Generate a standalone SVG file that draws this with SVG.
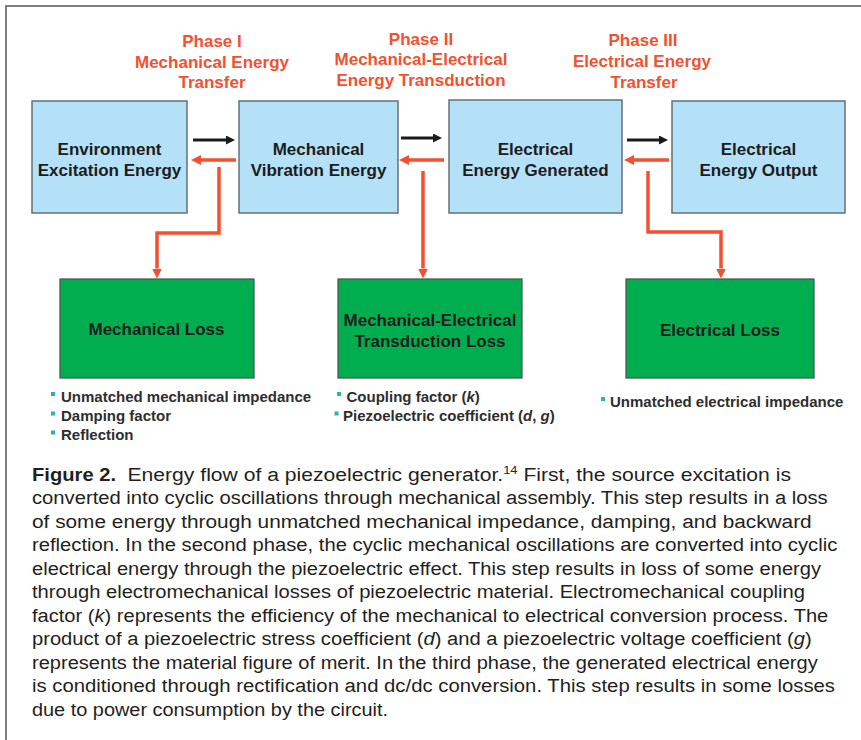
<svg xmlns="http://www.w3.org/2000/svg" width="861" height="740" viewBox="0 0 861 740">
<defs>
<style>
.bg{fill:#ffffff}
.frame{fill:none;stroke:#555;stroke-width:1.5}
.blue{fill:#B4E1F7;stroke:#62717a;stroke-width:1.5}
.green{fill:#00AE50;stroke:#4d5a52;stroke-width:1.3}
.nt{font-family:"Liberation Sans",Arial,Helvetica,sans-serif;font-weight:bold;font-size:17px;fill:#1c1c1c;text-anchor:middle}
.ph{font-family:"Liberation Sans",Arial,Helvetica,sans-serif;font-weight:bold;font-size:17px;fill:#F2512F;text-anchor:middle}
.bt{font-family:"Liberation Sans",Arial,Helvetica,sans-serif;font-weight:bold;font-size:15px;fill:#2e2e2e}
.sq{fill:#2BB3AF}
.cap{font-family:"Liberation Sans",Arial,Helvetica,sans-serif;font-size:18px;fill:#231f20}
.blk{fill:none;stroke:#1a1a1a;stroke-width:3}
.red{fill:none;stroke:#F2512F;stroke-width:3.5;stroke-linejoin:miter}
</style>
<marker id="ahb" viewBox="0 0 10 10" refX="0" refY="5" markerWidth="9" markerHeight="9" markerUnits="userSpaceOnUse" orient="auto">
<path d="M0,0 L10,5 L0,10 z" fill="#1a1a1a"/>
</marker>
<marker id="ahr" viewBox="0 0 10 10" refX="0" refY="5" markerWidth="10" markerHeight="10" markerUnits="userSpaceOnUse" orient="auto">
<path d="M0,0 L10,5 L0,10 z" fill="#F2512F"/>
</marker>
</defs>
<rect class="bg" x="0" y="0" width="861" height="740"/>
<path class="frame" d="M6,740 V6 H861"/>

<g id="phase-labels">
<text class="ph" x="212" y="47">Phase I</text>
<text class="ph" x="212" y="67.5">Mechanical Energy</text>
<text class="ph" x="212" y="88">Transfer</text>
<text class="ph" x="421" y="44.5">Phase II</text>
<text class="ph" x="421" y="65">Mechanical-Electrical</text>
<text class="ph" x="421" y="86">Energy Transduction</text>
<text class="ph" x="643" y="46">Phase III</text>
<text class="ph" x="642" y="66.5">Electrical Energy</text>
<text class="ph" x="644" y="87.5">Transfer</text>
</g>

<g id="env">
<rect class="blue" x="32" y="101" width="155" height="112"/>
<text class="nt" x="109.5" y="155">Environment</text>
<text class="nt" x="109.5" y="175.5">Excitation Energy</text>
</g>
<g id="mech">
<rect class="blue" x="239" y="101" width="159" height="112"/>
<text class="nt" x="318.5" y="155">Mechanical</text>
<text class="nt" x="318.5" y="175.5">Vibration Energy</text>
</g>
<g id="elecgen">
<rect class="blue" x="449" y="100" width="173" height="113"/>
<text class="nt" x="535.5" y="154.5">Electrical</text>
<text class="nt" x="535.5" y="175.5">Energy Generated</text>
</g>
<g id="elecout">
<rect class="blue" x="672" y="101" width="173" height="112"/>
<text class="nt" x="758.5" y="154.5">Electrical</text>
<text class="nt" x="758.5" y="175.5">Energy Output</text>
</g>

<g id="mechloss">
<rect class="green" x="60" y="279" width="194" height="99"/>
<text class="nt" x="156.5" y="335">Mechanical Loss</text>
</g>
<g id="transloss">
<rect class="green" x="338" y="279" width="184" height="99"/>
<text class="nt" x="430" y="325.5">Mechanical-Electrical</text>
<text class="nt" x="430" y="346.5">Transduction Loss</text>
</g>
<g id="elecloss">
<rect class="green" x="626" y="279" width="188" height="99"/>
<text class="nt" x="720" y="335.5">Electrical Loss</text>
</g>

<g id="mechloss-notes">
<rect class="sq" x="51" y="392" width="4" height="4"/>
<text class="bt" x="61" y="401.5">Unmatched mechanical impedance</text>
<rect class="sq" x="51" y="411.5" width="4" height="4"/>
<text class="bt" x="61" y="421">Damping factor</text>
<rect class="sq" x="51" y="430.5" width="4" height="4"/>
<text class="bt" x="61" y="440">Reflection</text>
</g>
<g id="transloss-notes">
<rect class="sq" x="337" y="392" width="4" height="4"/>
<text class="bt" x="346.5" y="401.5">Coupling factor (<tspan font-style="italic">k</tspan>)</text>
<rect class="sq" x="334.5" y="411.5" width="4" height="4"/>
<text class="bt" x="343" y="421">Piezoelectric coefficient (<tspan font-style="italic">d</tspan>, <tspan font-style="italic">g</tspan>)</text>
</g>
<g id="elecloss-notes">
<rect class="sq" x="601" y="397" width="4" height="4"/>
<text class="bt" x="610" y="406.5">Unmatched electrical impedance</text>
</g>

<g id="connectors">
<path class="blk" d="M193,140 H226" marker-end="url(#ahb)"/>
<path class="blk" d="M401,138 H433" marker-end="url(#ahb)"/>
<path class="blk" d="M627,140 H659" marker-end="url(#ahb)"/>
<path class="red" d="M236,160 H201" marker-end="url(#ahr)"/>
<path class="red" d="M444,160 H409" marker-end="url(#ahr)"/>
<path class="red" d="M669,160 H634" marker-end="url(#ahr)"/>
<path class="red" d="M219,167 V233 H157 V268.5" marker-end="url(#ahr)"/>
<path class="red" d="M423,171 V268.5" marker-end="url(#ahr)"/>
<path class="red" d="M648,171 V232 H721 V268.5" marker-end="url(#ahr)"/>
</g>

<g id="caption">
<text class="cap" x="32" y="481" font-weight="bold" textLength="84" lengthAdjust="spacingAndGlyphs">Figure 2.</text>
<text class="cap" x="127.5" y="481" textLength="663.5" lengthAdjust="spacingAndGlyphs">Energy flow of a piezoelectric generator.<tspan font-size="11" dy="-7">14</tspan><tspan dy="7"> First, the source excitation is</tspan></text>
<text class="cap" x="32" y="504.4" textLength="795.7" lengthAdjust="spacingAndGlyphs">converted into cyclic oscillations through mechanical assembly. This step results in a loss</text>
<text class="cap" x="32" y="527.9" textLength="779.7" lengthAdjust="spacingAndGlyphs">of some energy through unmatched mechanical impedance, damping, and backward</text>
<text class="cap" x="32" y="551.3" textLength="805.3" lengthAdjust="spacingAndGlyphs">reflection. In the second phase, the cyclic mechanical oscillations are converted into cyclic</text>
<text class="cap" x="32" y="574.8" textLength="789" lengthAdjust="spacingAndGlyphs">electrical energy through the piezoelectric effect. This step results in loss of some energy</text>
<text class="cap" x="32" y="598.2" textLength="773" lengthAdjust="spacingAndGlyphs">through electromechanical losses of piezoelectric material. Electromechanical coupling</text>
<text class="cap" x="32" y="621.7" textLength="796.3" lengthAdjust="spacingAndGlyphs">factor (<tspan font-style="italic">k</tspan>) represents the efficiency of the mechanical to electrical conversion process. The</text>
<text class="cap" x="32" y="645.1" textLength="779.7" lengthAdjust="spacingAndGlyphs">product of a piezoelectric stress coefficient (<tspan font-style="italic">d</tspan>) and a piezoelectric voltage coefficient (<tspan font-style="italic">g</tspan>)</text>
<text class="cap" x="32" y="668.6" textLength="785.7" lengthAdjust="spacingAndGlyphs">represents the material figure of merit. In the third phase, the generated electrical energy</text>
<text class="cap" x="32" y="692" textLength="803" lengthAdjust="spacingAndGlyphs">is conditioned through rectification and dc/dc conversion. This step results in some losses</text>
<text class="cap" x="32" y="715.5" textLength="356" lengthAdjust="spacingAndGlyphs">due to power consumption by the circuit.</text>
</g>
</svg>
